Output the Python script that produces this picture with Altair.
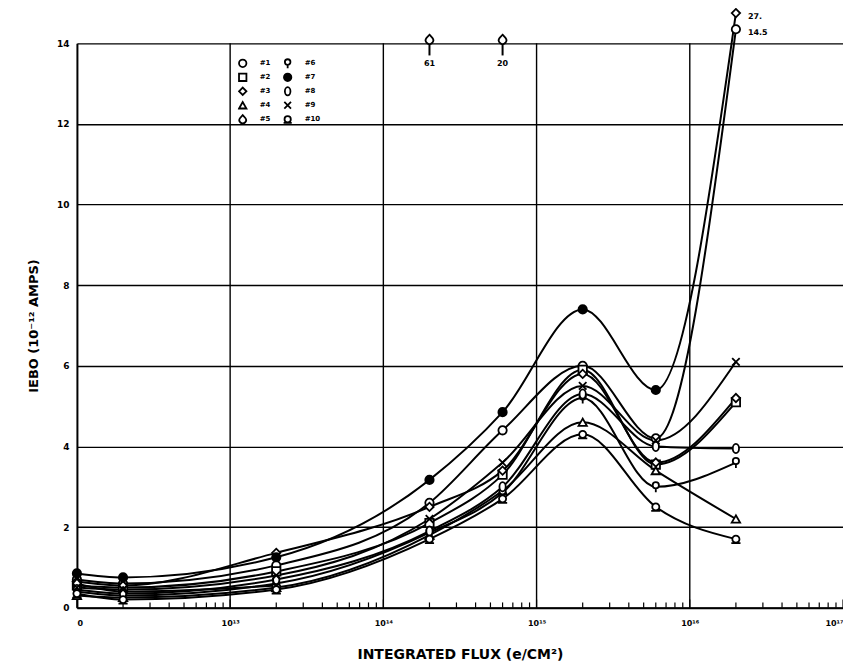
import math
import altair as alt
import pandas as pd

# ---- data ----
FLUX = [0, 2e12, 2e13, 2e14, 6e14, 2e15, 6e15, 2e16]

S1 = [0.70, 0.60, 1.05, 2.60, 4.40, 6.00, 4.20, 14.5]
S2 = [0.55, 0.50, 0.90, 2.10, 3.30, 5.90, 3.55, 5.10]
S3 = [0.65, 0.55, 1.36, 2.50, 3.40, 5.80, 3.60, 5.20]
S4 = [0.30, 0.25, 0.50, 1.80, 2.90, 4.60, 3.40, 2.20]
S5 = [0.60, 0.40, 0.55, 61.0, 20.0, None, None, None]
S6 = [0.40, 0.30, 0.60, 1.86, 2.85, 5.20, 3.00, 3.60]
S7 = [0.85, 0.75, 1.25, 3.17, 4.85, 7.40, 5.40, 27.0]
S8 = [0.45, 0.35, 0.70, 1.90, 3.00, 5.30, 4.00, 3.95]
S9 = [0.50, 0.45, 0.80, 2.20, 3.60, 5.50, 4.15, 6.10]
S10 = [0.35, 0.20, 0.45, 1.70, 2.70, 4.30, 2.50, 1.70]

SERIES = ["#1", "#2", "#3", "#4", "#5", "#6", "#7", "#8", "#9", "#10"]
SERIES_VALUES = [S1, S2, S3, S4, S5, S6, S7, S8, S9, S10]

# off-scale readings: where each is drawn above the top of the scale, its label,
# and the marker used for it in the original
OFF_VALUES = [27.0, 14.5, 61.0, 20.0]
OFF_DRAWN_AT = [14.75, 14.35, 14.1, 14.1]
OFF_LABELS = ["27.", "14.5", "61", "20"]
OFF_MARKER = ["#3", "#1", "#5", "#5"]

Y_TICKS = [0, 2, 4, 6, 8, 10, 12, 14]
DECADES = [12, 13, 14, 15, 16, 17]
GRID_DECADES = [13, 14, 15, 16]
MINOR_MULT = [2, 3, 4, 5, 6, 7, 8, 9]

SHAPES = {
    "#1": "circle",
    "#2": "square",
    "#3": "diamond",
    "#4": "triangle-up",
    "#5": "M0,-1.1L0.7,-0.35A0.9,0.9 0 1 1 -0.7,-0.35Z",
    "#6": "M-0.75,-0.35A0.75,0.75 0 1 1 0.75,-0.35A0.75,0.75 0 1 1 -0.75,-0.35ZM0,0.4L0,1.3",
    "#7": "circle",
    "#8": "M0,-1.1A0.75,1.1 0 1 1 0,1.1A0.75,1.1 0 1 1 0,-1.1Z",
    "#9": "M-0.9,-0.9L0.9,0.9M-0.9,0.9L0.9,-0.9",
    "#10": "M-0.85,0A0.85,0.85 0 1 1 0.85,0A0.85,0.85 0 1 1 -0.85,0ZM-1.1,0.95L1.1,0.95",
}
FILLS = {s: ("black" if s == "#7" else "white") for s in SERIES}


def xpos(f):
    return 12.0 if f == 0 else math.log10(f)


rows = []
for name, vals in zip(SERIES, SERIES_VALUES):
    for f, v in zip(FLUX, vals):
        if v is None:
            continue
        off = v > 14
        i = OFF_VALUES.index(v) if off else None
        rows.append(dict(series=name, flux=f, value=v, xp=xpos(f),
                         yp=OFF_DRAWN_AT[i] if off else v,
                         off=off, label=OFF_LABELS[i] if off else "",
                         marker=OFF_MARKER[i] if off else name,
                         connected=not (off and name == "#5")))
df = pd.DataFrame(rows)

minor = [math.log10(m) + d for d in range(12, 17) for m in MINOR_MULT]
ticks_df = pd.DataFrame({"xp": minor + DECADES,
                         "bottom": [0.0] * (len(minor) + len(DECADES)),
                         "top": [0.13] * len(minor) + [0.2] * len(DECADES)})
vgrid_df = pd.DataFrame({"xp": GRID_DECADES})

FONT = "DejaVu Sans"

xscale = alt.Scale(domain=[12, 17], nice=False, zero=False)
yscale = alt.Scale(domain=[0, 14], nice=False)

label_expr = ("datum.value == 12 ? '0' : datum.value == 13 ? '10¹³' : "
              "datum.value == 14 ? '10¹⁴' : datum.value == 15 ? '10¹⁵' : "
              "datum.value == 16 ? '10¹⁶' : datum.value == 17 ? '10¹⁷' : ''")

x_axis = alt.Axis(values=DECADES, labelExpr=label_expr, grid=False, ticks=False,
                  domainColor="black", domainWidth=2, labelFont=FONT,
                  labelFontWeight="bold", labelFontSize=8, labelPadding=12,
                  labelColor="black", title="INTEGRATED FLUX (e/CM²)",
                  titleFont=FONT, titleFontSize=14, titleFontWeight="bold",
                  titlePadding=20, titleColor="black")
y_axis = alt.Axis(values=Y_TICKS, grid=True, gridColor="black", gridWidth=1.4,
                  ticks=False, domainColor="black", domainWidth=2,
                  labelFont=FONT, labelFontWeight="bold", labelFontSize=9,
                  labelPadding=8, labelColor="black",
                  title="IEBO (10⁻¹² AMPS)", titleFont=FONT, titleFontSize=13,
                  titleFontWeight="bold", titlePadding=16, titleColor="black")

legend = alt.Legend(title=None, orient="none", legendX=161, legendY=13,
                    columns=2, columnPadding=12, rowPadding=0, clipHeight=14,
                    symbolSize=55, labelOffset=12,
                    symbolStrokeWidth=1.8, labelFont=FONT, labelFontSize=7,
                    labelFontWeight="bold", labelColor="black")

base = alt.Chart(df)

lines = base.transform_filter("datum.connected").mark_line(
    color="black", strokeWidth=2, interpolate="monotone"
).encode(
    x=alt.X("xp:Q", scale=xscale, axis=x_axis),
    y=alt.Y("yp:Q", scale=yscale, axis=y_axis),
    detail="series:N",
    order="xp:Q",
)

points = base.mark_point(filled=True, strokeWidth=1.8,
                         size=70, opacity=1).encode(
    x=alt.X("xp:Q", scale=xscale),
    y=alt.Y("yp:Q", scale=yscale),
    shape=alt.Shape("marker:N",
                    scale=alt.Scale(domain=SERIES,
                                    range=[SHAPES[s] for s in SERIES]),
                    legend=legend),
    fill=alt.Fill("marker:N",
                  scale=alt.Scale(domain=SERIES,
                                  range=[FILLS[s] for s in SERIES]),
                  legend=legend),
    stroke=alt.Stroke("marker:N",
                      scale=alt.Scale(domain=SERIES,
                                      range=["black"] * len(SERIES)),
                      legend=legend),
)

off5 = base.transform_filter("datum.off && !datum.connected").transform_calculate(
    stem_top="14", stem_bot="13.7", lab_y="13.5")

stems = off5.mark_rule(color="black", strokeWidth=2).encode(
    x=alt.X("xp:Q", scale=xscale),
    y=alt.Y("stem_top:Q", scale=yscale),
    y2="stem_bot:Q",
)

below_labels = off5.mark_text(
    font=FONT, fontSize=8, fontWeight="bold", color="black", baseline="middle"
).encode(
    x=alt.X("xp:Q", scale=xscale),
    y=alt.Y("lab_y:Q", scale=yscale),
    text="label:N",
)

side_labels = base.transform_filter("datum.off && datum.connected").mark_text(
    font=FONT, fontSize=8, fontWeight="bold", color="black", align="left",
    dx=12, dy=4, baseline="middle"
).encode(
    x=alt.X("xp:Q", scale=xscale),
    y=alt.Y("yp:Q", scale=yscale),
    text="label:N",
)

vgrid = alt.Chart(vgrid_df).mark_rule(color="black", strokeWidth=1.4).encode(
    x=alt.X("xp:Q", scale=xscale)
)

minor_ticks = alt.Chart(ticks_df).mark_rule(color="black", strokeWidth=1.2).encode(
    x=alt.X("xp:Q", scale=xscale),
    y=alt.Y("bottom:Q", scale=yscale),
    y2="top:Q",
)

chart = alt.layer(vgrid, minor_ticks, lines, stems, points, below_labels,
                  side_labels).properties(
    width=767, height=565,
    autosize=alt.AutoSizeParams(type="none"),
    padding={"left": 69, "top": 35, "right": 0, "bottom": 60},
).configure_view(stroke=None)

chart.save("out.html", embed_options={"renderer": "svg", "actions": False})
